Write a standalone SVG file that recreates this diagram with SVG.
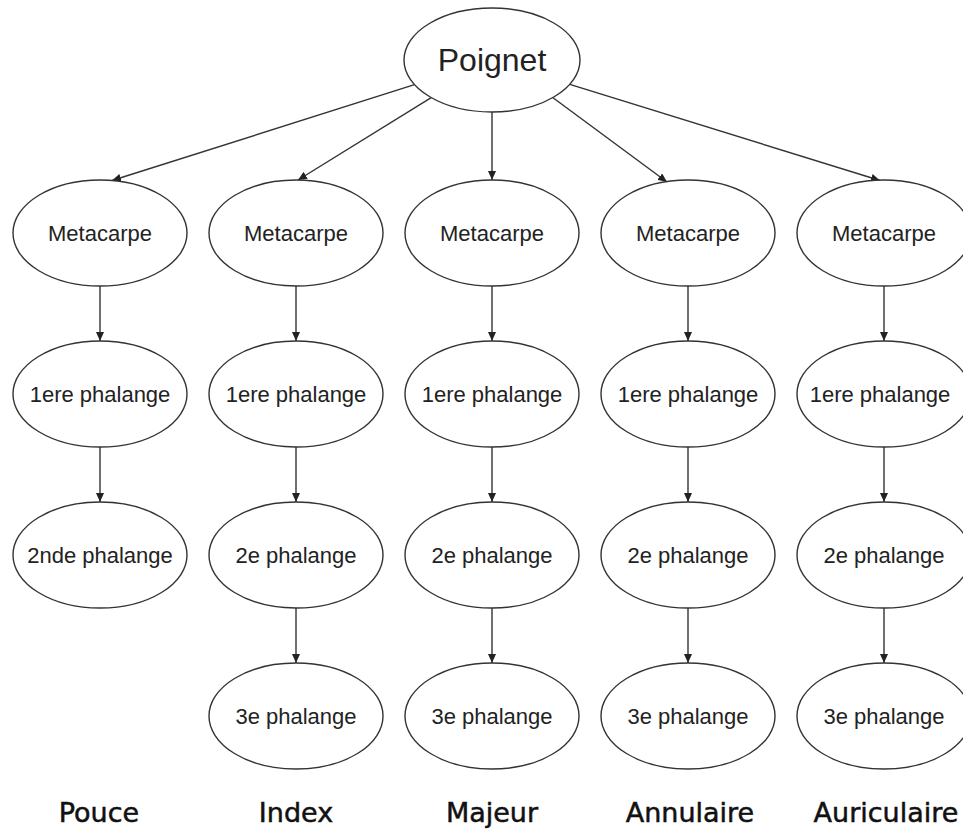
<svg xmlns="http://www.w3.org/2000/svg" width="963" height="832" viewBox="0 0 963 832">
<style>
.n ellipse{fill:#fff;stroke:#333;stroke-width:1.4}
.n text{font-family:"Liberation Sans",Arial,sans-serif;font-size:22px;fill:#222;text-anchor:middle}
.big{font-size:32px !important}
.e line{stroke:#333;stroke-width:1.4;marker-end:url(#ah)}
.lab{font-family:"DejaVu Sans",sans-serif;font-size:27px;fill:#111;stroke:#111;stroke-width:0.5;text-anchor:middle}
</style>
<defs>
<marker id="ah" markerUnits="userSpaceOnUse" markerWidth="10" markerHeight="8" refX="9" refY="4" orient="auto">
<path d="M0,0 L9,4 L0,8 Z" fill="#222"/>
</marker>
</defs>
<rect width="963" height="832" fill="#fff"/>
<g id="edges" class="e">
<line x1="414.5" y1="84.7" x2="112" y2="180.5"/>
<line x1="431.2" y1="97.6" x2="298" y2="180"/>
<line x1="492" y1="112" x2="492" y2="180"/>
<line x1="552" y1="97" x2="667" y2="182"/>
<line x1="569.8" y1="84.3" x2="880" y2="180.5"/>
<line x1="100" y1="286" x2="100" y2="341"/>
<line x1="100" y1="447" x2="100" y2="502"/>
<line x1="296" y1="286" x2="296" y2="341"/>
<line x1="296" y1="447" x2="296" y2="502"/>
<line x1="296" y1="608" x2="296" y2="663"/>
<line x1="492" y1="286" x2="492" y2="341"/>
<line x1="492" y1="447" x2="492" y2="502"/>
<line x1="492" y1="608" x2="492" y2="663"/>
<line x1="688" y1="286" x2="688" y2="341"/>
<line x1="688" y1="447" x2="688" y2="502"/>
<line x1="688" y1="608" x2="688" y2="663"/>
<line x1="884" y1="286" x2="884" y2="341"/>
<line x1="884" y1="447" x2="884" y2="502"/>
<line x1="884" y1="608" x2="884" y2="663"/>
</g>
<g id="poignet" class="n"><ellipse cx="492" cy="60" rx="88" ry="52"/><text class="big" x="492" y="71">Poignet</text></g>

<g id="pouce-meta" class="n"><ellipse cx="100" cy="233" rx="87" ry="53"/><text x="100" y="241">Metacarpe</text></g>
<g id="pouce-p1" class="n"><ellipse cx="100" cy="394" rx="87" ry="53"/><text x="100" y="402">1ere phalange</text></g>
<g id="pouce-p2" class="n"><ellipse cx="100" cy="555" rx="87" ry="53"/><text x="100" y="563">2nde phalange</text></g>

<g id="index-meta" class="n"><ellipse cx="296" cy="233" rx="87" ry="53"/><text x="296" y="241">Metacarpe</text></g>
<g id="index-p1" class="n"><ellipse cx="296" cy="394" rx="87" ry="53"/><text x="296" y="402">1ere phalange</text></g>
<g id="index-p2" class="n"><ellipse cx="296" cy="555" rx="87" ry="53"/><text x="296" y="563">2e phalange</text></g>
<g id="index-p3" class="n"><ellipse cx="296" cy="716" rx="87" ry="53"/><text x="296" y="724">3e phalange</text></g>

<g id="majeur-meta" class="n"><ellipse cx="492" cy="233" rx="87" ry="53"/><text x="492" y="241">Metacarpe</text></g>
<g id="majeur-p1" class="n"><ellipse cx="492" cy="394" rx="87" ry="53"/><text x="492" y="402">1ere phalange</text></g>
<g id="majeur-p2" class="n"><ellipse cx="492" cy="555" rx="87" ry="53"/><text x="492" y="563">2e phalange</text></g>
<g id="majeur-p3" class="n"><ellipse cx="492" cy="716" rx="87" ry="53"/><text x="492" y="724">3e phalange</text></g>

<g id="annulaire-meta" class="n"><ellipse cx="688" cy="233" rx="87" ry="53"/><text x="688" y="241">Metacarpe</text></g>
<g id="annulaire-p1" class="n"><ellipse cx="688" cy="394" rx="87" ry="53"/><text x="688" y="402">1ere phalange</text></g>
<g id="annulaire-p2" class="n"><ellipse cx="688" cy="555" rx="87" ry="53"/><text x="688" y="563">2e phalange</text></g>
<g id="annulaire-p3" class="n"><ellipse cx="688" cy="716" rx="87" ry="53"/><text x="688" y="724">3e phalange</text></g>

<g id="auriculaire-meta" class="n"><ellipse cx="884" cy="233" rx="87" ry="53"/><text x="884" y="241">Metacarpe</text></g>
<g id="auriculaire-p1" class="n"><ellipse cx="884" cy="394" rx="87" ry="53"/><text x="880" y="402">1ere phalange</text></g>
<g id="auriculaire-p2" class="n"><ellipse cx="884" cy="555" rx="87" ry="53"/><text x="884" y="563">2e phalange</text></g>
<g id="auriculaire-p3" class="n"><ellipse cx="884" cy="716" rx="87" ry="53"/><text x="884" y="724">3e phalange</text></g>

<g id="labels">
<text class="lab" x="99" y="822">Pouce</text>
<text class="lab" x="296" y="822">Index</text>
<text class="lab" x="492" y="822">Majeur</text>
<text class="lab" x="690" y="822">Annulaire</text>
<text class="lab" x="886" y="822">Auriculaire</text>
</g>
</svg>
